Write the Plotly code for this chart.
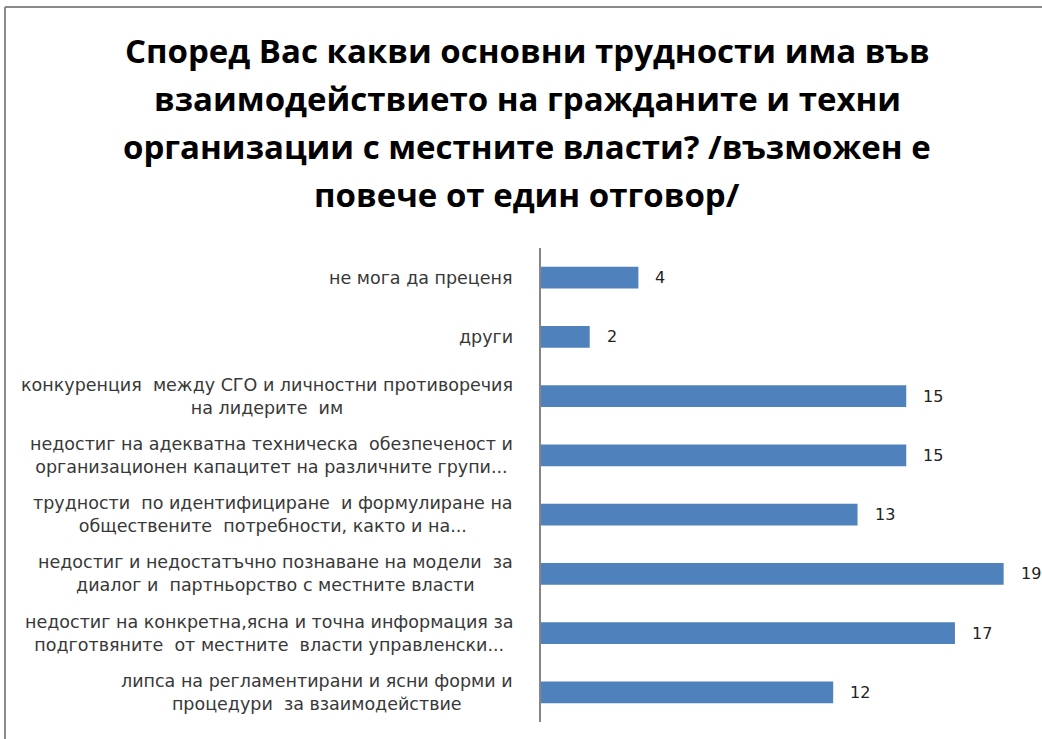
import plotly.graph_objects as go

title_lines = [
    "Според Вас какви основни трудности има във",
    "взаимодействието на гражданите и техни",
    "организации с местните власти? /възможен е",
    "повече от един отговор/",
]

categories = [
    "липса на регламентирани и ясни форми и<br>процедури  за взаимодействие",
    "недостиг на конкретна,ясна и точна информация за<br>подготвяните  от местните  власти управленски...",
    "недостиг и недостатъчно познаване на модели  за<br>диалог и  партньорство с местните власти",
    "трудности  по идентифициране  и формулиране на<br>обществените  потребности, както и на...",
    "недостиг на адекватна техническа  обезпеченост и<br>организационен капацитет на различните групи...",
    "конкуренция  между СГО и личностни противоречия<br>на лидерите  им",
    "други",
    "не мога да преценя",
]
values = [12, 17, 19, 13, 15, 15, 2, 4]

W, H = 1042, 739
L, R, T, B = 541, 14, 248, 17
pw = W - L - R
ph = H - T - B

fig = go.Figure()
fig.add_trace(go.Bar(
    x=values, y=categories, orientation="h",
    marker=dict(color="#4F81BD", line=dict(width=0)),
    hoverinfo="skip",
))

annotations = []
# category labels (centered multi-line, right-anchored)
for c in categories:
    annotations.append(dict(
        x=0, y=c, xref="x", yref="y", text=c, showarrow=False,
        xanchor="right", yanchor="middle", align="center", xshift=-26,
        font=dict(family="DejaVu Sans", size=17.5, color="#383838"),
    ))
# value labels
for c, v in zip(categories, values):
    annotations.append(dict(
        x=v, y=c, xref="x", yref="y", text=str(v), showarrow=False,
        xanchor="left", yanchor="middle", xshift=15,
        font=dict(family="DejaVu Sans", size=16, color="#222222"),
    ))
# title lines
for i, t in enumerate(title_lines):
    annotations.append(dict(
        x=(527 - L) / pw, y=(H - B - (50 + i * 48.3)) / ph, xref="paper", yref="paper",
        text="<b>" + t + "</b>", showarrow=False, xanchor="center", yanchor="middle",
        font=dict(family="Open Sans", size=33, color="#000000"),
    ))

bx0, by0 = (5 - L) / pw, (H - B - 7) / ph
frame = dict(color="#8a8a8a", width=2)
fig.update_layout(
    width=W, height=H,
    margin=dict(l=L, r=R, t=T, b=B, pad=0),
    paper_bgcolor="white", plot_bgcolor="white",
    showlegend=False, bargap=0.63,
    annotations=annotations,
    xaxis=dict(range=[0, 20], visible=False, fixedrange=True),
    yaxis=dict(showticklabels=False, ticks="", showline=True, linecolor="#868686",
               linewidth=1.5, showgrid=False, zeroline=False, fixedrange=True),
    shapes=[
        dict(type="line", xref="paper", yref="paper", x0=bx0, x1=(W - L + 10) / pw,
             y0=by0, y1=by0, line=frame, layer="below"),
        dict(type="line", xref="paper", yref="paper", x0=bx0, x1=bx0,
             y0=by0, y1=-(B + 10) / ph, line=frame, layer="below"),
    ],
)

fig.write_html(
    "out.html",
    config={"displayModeBar": False},
    post_script="document.body.style.margin='0';document.body.style.overflow='hidden';",
)
